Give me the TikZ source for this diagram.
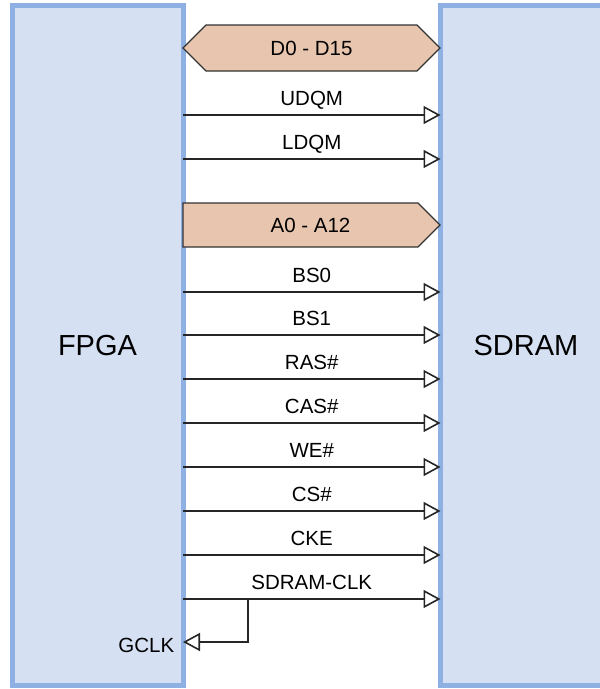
\documentclass[tikz,border=0pt]{standalone}
\usepackage{fontspec}
\setmainfont{Liberation Sans}
\usepackage{tikz}
\usetikzlibrary{arrows.meta,shapes.symbols}
\definecolor{chipline}{RGB}{142,176,226}
\definecolor{chipfill}{RGB}{214,224,243}
\definecolor{busfill}{RGB}{232,197,174}
\tikzset{
    chip-box/.style = {draw=chipline, fill=chipfill, line width=5pt, rectangle, outer sep=0pt, minimum width=171pt, minimum height=680pt, font=\fontsize{29}{34}\selectfont},
    bus-box/.style = {draw=black!80, fill=busfill, line width=1.3pt, signal, signal pointer angle=90, minimum width=257pt, inner sep=0pt, outer sep=0pt, anchor=west, font=\fontsize{20.5}{24}\selectfont},
    wire/.style = {draw=black!85, line width=1.6pt, -{Triangle[fill=white, length=17pt, width=18pt]}},
    wire-label/.style = {anchor=base, yshift=9.7pt, inner sep=0pt, font=\fontsize{20.5}{24}\selectfont},
}

\begin{document}
\begin{tikzpicture}[x=1pt, y=1pt]
\clip (0,0) rectangle (600,-689);
\node [chip-box] (fpga) at (97.5,-345.5) {FPGA};
\node [chip-box] (sdram) at (526,-345.5) {SDRAM};

\node [bus-box, signal to=west and east, minimum height=46pt] (data-bus) at (fpga.east |- 0,-48) {D0 - D15};
\node [bus-box, signal to=east, minimum height=44pt, label={[xshift=10pt, inner sep=0pt, font=\fontsize{20.5}{24}\selectfont]center:A0 - A12}] (addr-bus) at (fpga.east |- 0,-225) {};

\foreach \name/\y in {UDQM/115, LDQM/159, BS0/292, BS1/335, RAS\#/379, CAS\#/423, WE\#/467, CS\#/511, CKE/555, SDRAM-CLK/599}
    \draw[wire] (fpga.east |- 0,-\y) -- node[wire-label]{\name} (sdram.west |- 0,-\y);

\coordinate (clk-tap) at (248,-599);
\draw[wire] (clk-tap) |- node[pos=1, anchor=east, xshift=-8pt, yshift=-3pt, inner sep=0pt, font=\fontsize{20.5}{24}\selectfont]{GCLK} (fpga.east |- 0,-642);
\end{tikzpicture}
\end{document}
